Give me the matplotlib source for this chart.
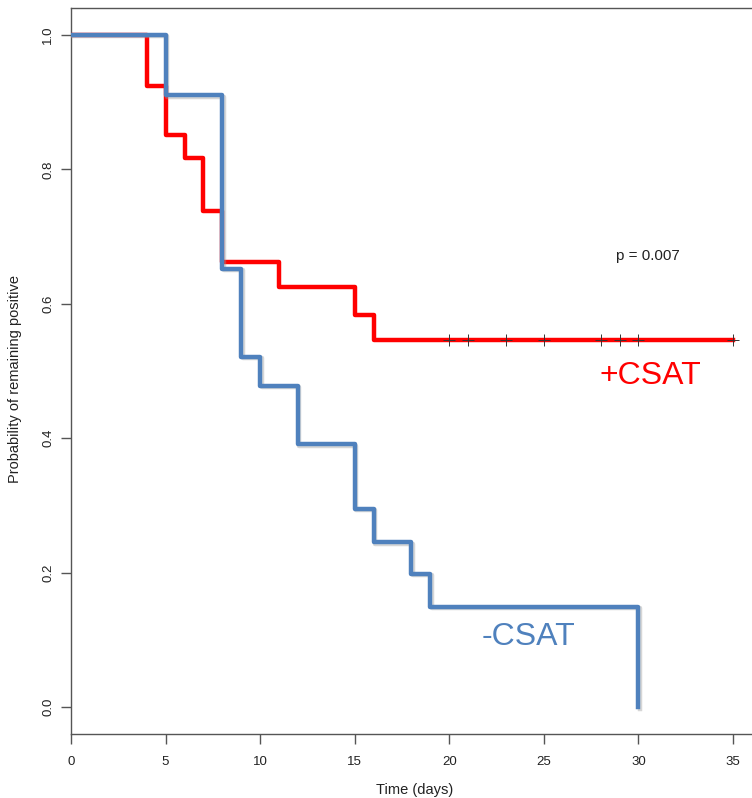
#!/usr/bin/env python3
"""Kaplan-Meier style step curves: +CSAT vs -CSAT."""

import matplotlib

matplotlib.use("Agg")
import matplotlib.pyplot as plt
import matplotlib.patheffects as pe

plt.rcParams["font.family"] = ["Liberation Sans", "DejaVu Sans"]

# +CSAT (red) survival steps
red_times = [0, 4, 5, 6, 7, 8, 11, 15, 16, 35]
red_surv = [1.0, 0.924, 0.851, 0.817, 0.738, 0.662, 0.625, 0.584, 0.546, 0.546]
red_censor = [20, 21, 23, 25, 28, 29, 30, 35]

# -CSAT (blue) survival steps
blue_times = [0, 5, 8, 9, 10, 12, 15, 16, 18, 19, 30]
blue_surv = [1.0, 0.910, 0.652, 0.521, 0.478, 0.391, 0.295, 0.245, 0.198, 0.149, 0.0]

x_ticks = [0, 5, 10, 15, 20, 25, 30, 35]
y_ticks = [0.0, 0.2, 0.4, 0.6, 0.8, 1.0]

RED = "#FF0000"
BLUE = "#4F81BD"
AXIS = "#555555"

W, H = 752, 798
fig = plt.figure(figsize=(W / 100, H / 100), dpi=100)
ax = fig.add_axes([71 / W, 1 - 734 / H, 1 - 71 / W, (734 - 8) / H])

ax.step(red_times, red_surv, where="post", color=RED, lw=3.2, zorder=3)
ax.plot(red_censor, [red_surv[-1]] * len(red_censor), ls="none", marker="+",
        ms=9, mew=0.7, color="#333333", zorder=4)
ax.step(blue_times, blue_surv, where="post", color=BLUE, lw=3.2, zorder=5,
        path_effects=[pe.SimpleLineShadow(offset=(1.0, -1.0), shadow_color="#999999", alpha=0.4),
                      pe.Normal()])

ax.set_xlim(0, 36.0)
ax.set_ylim(-0.04, 1.04)
ax.set_xticks(x_ticks)
ax.set_xticklabels([str(t) for t in x_ticks])
ax.set_yticks(y_ticks)
ax.set_yticklabels([f"{t:.1f}" for t in y_ticks], rotation=90, va="center")

for side in ["left", "bottom", "top"]:
    ax.spines[side].set_color(AXIS)
    ax.spines[side].set_linewidth(1.0)
ax.spines["right"].set_visible(False)
ax.tick_params(axis="both", direction="out", length=7, width=1.0, color=AXIS,
               labelsize=9.5, labelcolor="#222222")
ax.tick_params(axis="x", pad=9)
ax.tick_params(axis="y", pad=5)

ax.set_xlabel("Time (days)", fontsize=10.5, color="#222222")
ax.set_ylabel("Probability of remaining positive", fontsize=10.5, color="#222222")
ax.xaxis.set_label_coords((415 - 71) / (W - 71), -(783 - 734) / (734 - 8))
ax.yaxis.set_label_coords(-(71 - 22) / (W - 71), (734 - 379) / (734 - 8))

ax.text(30.5, 0.671, "p = 0.007", fontsize=11, color="#222222", ha="center", va="center")
ax.text(30.65, 0.493, "+CSAT", fontsize=23, color=RED, ha="center", va="center")
ax.text(24.2, 0.104, "-CSAT", fontsize=23, color=BLUE, ha="center", va="center")

fig.savefig("out.png", dpi=100)
